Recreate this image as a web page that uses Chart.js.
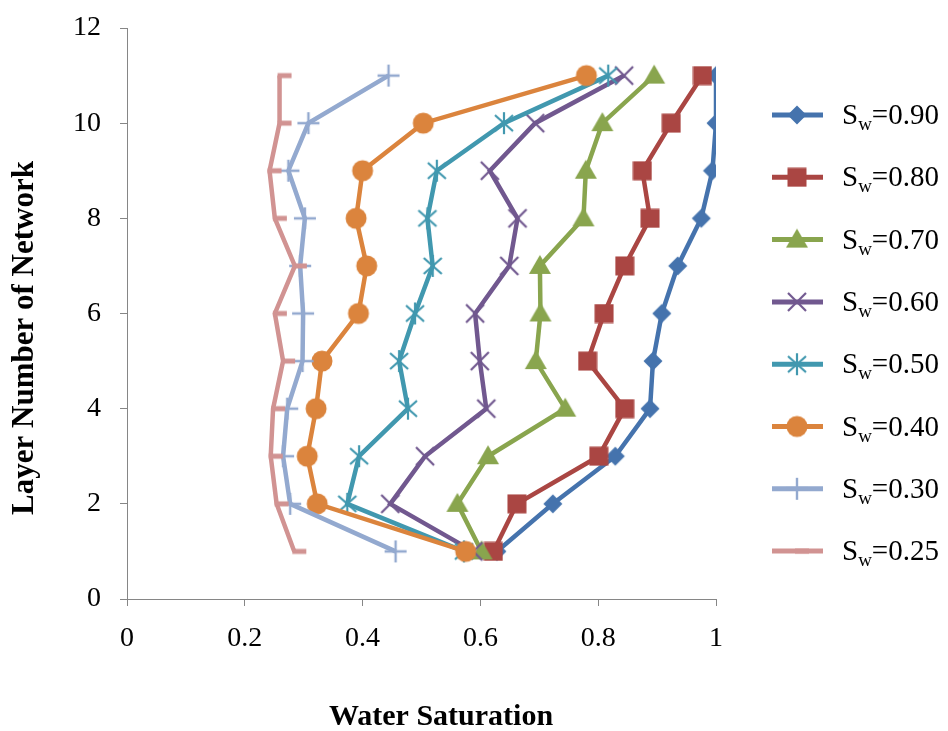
<!DOCTYPE html>
<html>
<head>
<meta charset="utf-8">
<script src="https://cdn.jsdelivr.net/npm/chart.js@4.4.1/dist/chart.umd.min.js"></script>
<style>
  html, body { margin: 0; padding: 0; background: #fff; }
  #wrap { width: 948px; height: 731px; }
</style>
</head>
<body>
<div id="wrap"><canvas id="chart" width="948" height="731"></canvas></div>
<script>
// layer index of the network (y axis)
const layers = [1, 2, 3, 4, 5, 6, 7, 8, 9, 10, 11];

// water saturation per layer, one array per average Sw
const sw90 = [0.628, 0.723, 0.829, 0.888, 0.893, 0.908, 0.935, 0.975, 0.994, 1.0, 1.0];
const sw80 = [0.622, 0.662, 0.801, 0.845, 0.782, 0.810, 0.845, 0.888, 0.875, 0.924, 0.977];
const sw70 = [0.602, 0.561, 0.613, 0.744, 0.694, 0.702, 0.701, 0.775, 0.779, 0.807, 0.895];
const sw60 = [0.588, 0.447, 0.506, 0.610, 0.599, 0.591, 0.649, 0.663, 0.616, 0.693, 0.844];
const sw50 = [0.572, 0.374, 0.394, 0.477, 0.462, 0.489, 0.519, 0.510, 0.526, 0.640, 0.817];
const sw40 = [0.575, 0.323, 0.306, 0.321, 0.331, 0.393, 0.407, 0.389, 0.400, 0.503, 0.780];
const sw30 = [0.456, 0.277, 0.265, 0.272, 0.298, 0.299, 0.294, 0.302, 0.274, 0.308, 0.444];
const sw25 = [0.284, 0.254, 0.244, 0.248, 0.265, 0.251, 0.285, 0.251, 0.242, 0.259, 0.259];

const seriesNames = ["0.90", "0.80", "0.70", "0.60", "0.50", "0.40", "0.30", "0.25"];
const seriesData = [sw90, sw80, sw70, sw60, sw50, sw40, sw30, sw25];
const colors = ["#4573AD", "#AA4643", "#89A54E", "#71588F", "#4198AF", "#DB843D", "#93A9CF", "#D19392"];

const xTicks = [0, 0.2, 0.4, 0.6, 0.8, 1];
const yTicks = [0, 2, 4, 6, 8, 10, 12];

const xTitle = "Water Saturation";
const yTitle = "Layer Number of Network";

const SERIF = '"Liberation Serif", "Times New Roman", serif';

// small canvases used as point markers (also reused by the legend)
function marker(w, h, draw){
  const c = document.createElement("canvas");
  c.width = w; c.height = h;
  const g = c.getContext("2d");
  draw(g, w / 2, h / 2);
  return c;
}

function makeMarkers(){
  return [
    // diamond
    marker(22, 22, (g, cx, cy) => {
      g.fillStyle = colors[0];
      g.beginPath();
      g.moveTo(cx, cy - 9.5); g.lineTo(cx + 9.5, cy); g.lineTo(cx, cy + 9.5); g.lineTo(cx - 9.5, cy);
      g.closePath(); g.fill();
    }),
    // square
    marker(20, 20, (g, cx, cy) => {
      g.fillStyle = colors[1];
      g.fillRect(cx - 9.5, cy - 9.5, 19, 19);
    }),
    // triangle
    marker(24, 24, (g, cx, cy) => {
      g.fillStyle = colors[2];
      g.beginPath();
      g.moveTo(cx, cy - 11); g.lineTo(cx + 11, cy + 8); g.lineTo(cx - 11, cy + 8);
      g.closePath(); g.fill();
    }),
    // x
    marker(24, 24, (g, cx, cy) => {
      g.strokeStyle = colors[3]; g.lineWidth = 2.2;
      g.beginPath();
      g.moveTo(cx - 9, cy - 9); g.lineTo(cx + 9, cy + 9);
      g.moveTo(cx + 9, cy - 9); g.lineTo(cx - 9, cy + 9);
      g.stroke();
    }),
    // star (x with a vertical bar)
    marker(26, 26, (g, cx, cy) => {
      g.strokeStyle = colors[4]; g.lineWidth = 2.2;
      g.beginPath();
      g.moveTo(cx - 9, cy - 8); g.lineTo(cx + 9, cy + 8);
      g.moveTo(cx + 9, cy - 8); g.lineTo(cx - 9, cy + 8);
      g.moveTo(cx, cy - 11); g.lineTo(cx, cy + 11);
      g.stroke();
    }),
    // circle
    marker(24, 24, (g, cx, cy) => {
      g.fillStyle = colors[5];
      g.beginPath(); g.arc(cx, cy, 10.5, 0, Math.PI * 2); g.fill();
    }),
    // plus
    marker(26, 26, (g, cx, cy) => {
      g.strokeStyle = colors[6]; g.lineWidth = 2.4;
      g.beginPath();
      g.moveTo(cx - 11, cy); g.lineTo(cx + 11, cy);
      g.moveTo(cx, cy - 11); g.lineTo(cx, cy + 11);
      g.stroke();
    }),
    // dash, sits to the right of the point
    marker(30, 8, (g, cx, cy) => {
      g.fillStyle = colors[7];
      g.fillRect(cx - 2, cy - 2.5, 14, 5);
    })
  ];
}

const markers = makeMarkers();

const datasets = seriesData.map((vals, i) => ({
  label: "Sw=" + seriesNames[i],
  data: vals.map((v, k) => ({ x: v, y: layers[k] })),
  showLine: true,
  borderColor: colors[i],
  backgroundColor: colors[i],
  borderWidth: 4.5,
  pointStyle: markers[i],
  pointRadius: 10,
  order: seriesData.length - i
}));

// axis titles placed off-centre + legend at the right with subscript "w"
const decorations = {
  id: "decorations",
  afterDraw(chart){
    const ctx = chart.ctx;
    ctx.save();
    ctx.fillStyle = "#000";

    ctx.textAlign = "center";
    ctx.textBaseline = "alphabetic";
    ctx.font = "bold 30px " + SERIF;
    ctx.fillText(xTitle, 441, 725);

    ctx.save();
    ctx.translate(33, 338);
    ctx.rotate(-Math.PI / 2);
    ctx.font = "bold 31px " + SERIF;
    ctx.fillText(yTitle, 0, 0);
    ctx.restore();

    datasets.forEach((ds, i) => {
      const y = 115 + i * 62.3;
      ctx.strokeStyle = ds.borderColor;
      ctx.lineWidth = 5;
      ctx.beginPath();
      ctx.moveTo(772, y); ctx.lineTo(823, y);
      ctx.stroke();
      const m = markers[i];
      ctx.drawImage(m, 797 - m.width / 2, y - m.height / 2);

      let x = 842;
      ctx.fillStyle = "#000";
      ctx.textAlign = "left";
      ctx.font = "29px " + SERIF;
      ctx.fillText("S", x, y + 9);
      x += ctx.measureText("S").width;
      ctx.font = "19px " + SERIF;
      ctx.fillText("w", x, y + 15);
      x += ctx.measureText("w").width;
      ctx.font = "29px " + SERIF;
      ctx.fillText("=" + seriesNames[i], x, y + 9);
    });
    ctx.restore();
  }
};

const axisColor = "#868686";

new Chart(document.getElementById("chart"), {
  type: "scatter",
  data: { datasets },
  options: {
    responsive: false,
    animation: false,
    devicePixelRatio: 1,
    layout: { padding: { top: 28, right: 232, left: 0, bottom: 0 } },
    plugins: { legend: { display: false }, tooltip: { enabled: false } },
    scales: {
      x: {
        type: "linear",
        min: xTicks[0],
        max: xTicks[xTicks.length - 1],
        afterBuildTicks: (s) => { s.ticks = xTicks.map(v => ({ value: v })); },
        afterFit: (s) => { s.height = 132; },
        border: { color: axisColor, width: 1 },
        grid: { drawOnChartArea: false, drawTicks: true, tickLength: 7, color: axisColor },
        ticks: {
          color: "#000", padding: 16,
          font: { family: SERIF, size: 28 },
          callback: (v) => String(v)
        }
      },
      y: {
        type: "linear",
        min: yTicks[0],
        max: yTicks[yTicks.length - 1],
        afterBuildTicks: (s) => { s.ticks = yTicks.map(v => ({ value: v })); },
        afterFit: (s) => { s.width = 127; s.paddingTop = 10; s.paddingBottom = 10; },
        border: { color: axisColor, width: 1 },
        grid: { drawOnChartArea: false, drawTicks: true, tickLength: 7, color: axisColor },
        ticks: {
          color: "#000", padding: 19,
          font: { family: SERIF, size: 28 },
          callback: (v) => String(v)
        }
      }
    }
  },
  plugins: [decorations]
});
</script>
</body>
</html>
